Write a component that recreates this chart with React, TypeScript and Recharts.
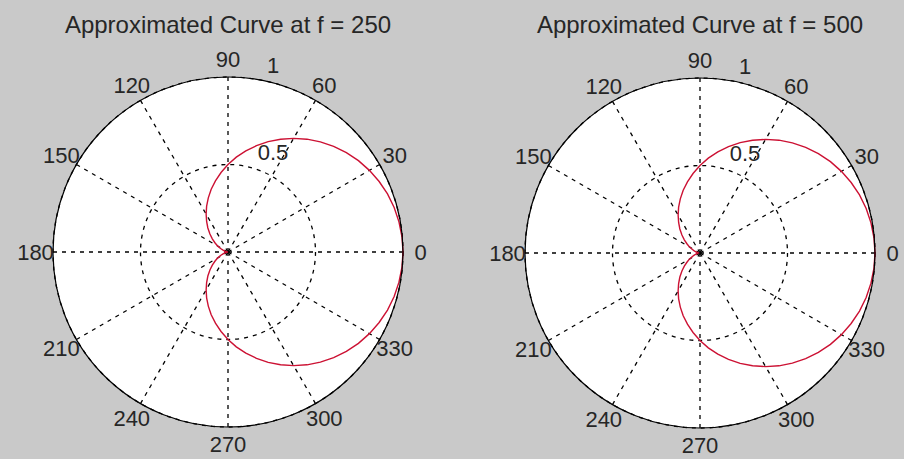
import React from "react";
import { RadarChart, Radar, PolarGrid, PolarAngleAxis, PolarRadiusAxis } from "recharts";

// Angles (degrees) at which the curves were read
const angles = [0, 5, 10, 15, 20, 25, 30, 35, 40, 45, 50, 55, 60, 65, 70, 75, 80, 85,
  90, 95, 100, 105, 110, 115, 120, 125, 130, 135, 140, 145, 150, 155, 160, 165, 170, 175,
  180, 185, 190, 195, 200, 205, 210, 215, 220, 225, 230, 235, 240, 245, 250, 255, 260, 265,
  270, 275, 280, 285, 290, 295, 300, 305, 310, 315, 320, 325, 330, 335, 340, 345, 350, 355];

// Radius (f = 250)
const r250 = [1.0, 0.998, 0.992, 0.983, 0.97, 0.953, 0.933, 0.91, 0.883, 0.854, 0.821, 0.787,
  0.75, 0.711, 0.671, 0.629, 0.587, 0.544, 0.5, 0.456, 0.413, 0.371, 0.329, 0.289,
  0.25, 0.213, 0.179, 0.146, 0.117, 0.09, 0.067, 0.047, 0.03, 0.017, 0.008, 0.002,
  0.0, 0.002, 0.008, 0.017, 0.03, 0.047, 0.067, 0.09, 0.117, 0.146, 0.179, 0.213,
  0.25, 0.289, 0.329, 0.371, 0.413, 0.456, 0.5, 0.544, 0.587, 0.629, 0.671, 0.711,
  0.75, 0.787, 0.821, 0.854, 0.883, 0.91, 0.933, 0.953, 0.97, 0.983, 0.992, 0.998];

// Radius (f = 500)
const r500 = [1.0, 0.998, 0.992, 0.983, 0.97, 0.953, 0.933, 0.91, 0.883, 0.854, 0.821, 0.787,
  0.75, 0.711, 0.671, 0.629, 0.587, 0.544, 0.5, 0.456, 0.413, 0.371, 0.329, 0.289,
  0.25, 0.213, 0.179, 0.146, 0.117, 0.09, 0.07, 0.05, 0.035, 0.022, 0.015, 0.02,
  0.01, 0.02, 0.015, 0.022, 0.035, 0.05, 0.07, 0.09, 0.117, 0.146, 0.179, 0.213,
  0.25, 0.289, 0.329, 0.371, 0.413, 0.456, 0.5, 0.544, 0.587, 0.629, 0.671, 0.711,
  0.75, 0.787, 0.821, 0.854, 0.883, 0.91, 0.933, 0.953, 0.97, 0.983, 0.992, 0.998];

const angleTickLabels = [0, 30, 60, 90, 120, 150, 180, 210, 240, 270, 300, 330];
const radiusTicks = [0, 0.5, 1];
const titles = ["Approximated Curve at f = 250", "Approximated Curve at f = 500"];

const BG = "#c9c9c9";
const TEXT = "#262626";
const RED = "#cc1133";
const FONT = "'Liberation Sans', Arial, sans-serif";

const R = 175;
const LABEL_R = R * 1.1;
const CHART_W = 452;
const CHART_H = 459;

const RadiusTick = (props: any) => {
  const v = Number(props.payload?.value);
  if (v === 0) return <g />;
  return (
    <text x={props.x + 45} y={props.y - 12} textAnchor="middle" dominantBaseline="central"
      fontSize={22} fill={TEXT} fontFamily={FONT}>{String(v)}</text>
  );
};

function PolarPlot({ values, title, cx, cy }: { values: number[]; title: string; cx: number; cy: number }) {
  const data = angles.map((a, i) => ({ angle: a, r: values[i] }));
  const AngleTick = (props: any) => {
    const v = Number(props.payload?.value);
    if (!angleTickLabels.includes(v)) return <g />;
    const rad = (v * Math.PI) / 180;
    const x = cx + LABEL_R * Math.cos(rad);
    const y = cy - LABEL_R * Math.sin(rad);
    return (
      <text x={x} y={y} textAnchor="middle" dominantBaseline="central"
        fontSize={22} fill={TEXT} fontFamily={FONT}>{String(v)}</text>
    );
  };
  return (
    <div style={{ position: "relative", width: CHART_W, height: CHART_H }}>
      <div style={{ position: "absolute", left: cx - R, top: cy - R, width: 2 * R, height: 2 * R,
        borderRadius: "50%", background: "#ffffff" }} />
      <div style={{ position: "absolute", left: 0, width: 2 * cx, top: 8, textAlign: "center",
        fontFamily: FONT, fontSize: 24, color: TEXT, lineHeight: "34px", whiteSpace: "nowrap" }}>{title}</div>
      <div style={{ position: "absolute", left: 0, top: 0 }}>
        <RadarChart width={CHART_W} height={CHART_H} data={data} cx={cx} cy={cy}
          outerRadius={R} innerRadius={0} startAngle={0} endAngle={360}
          margin={{ top: 0, right: 0, bottom: 0, left: 0 }}>
          <PolarGrid gridType="circle" stroke="#000" strokeWidth={1.3} strokeDasharray="4 5"
            polarAngles={angleTickLabels} />
          <Radar dataKey="r" stroke={RED} strokeWidth={1.4} fill="none" fillOpacity={0}
            dot={false} isAnimationActive={false} />
          <PolarAngleAxis dataKey="angle" type="number" domain={[0, 360]} ticks={angleTickLabels}
            axisLineType="circle" axisLine={{ stroke: "#000", strokeWidth: 1.2 }}
            tickLine={false} tickSize={18} tick={<AngleTick />} />
          <PolarRadiusAxis type="number" domain={[0, 1]} ticks={radiusTicks} angle={90}
            axisLine={false} tickLine={false} tick={<RadiusTick />} />
        </RadarChart>
      </div>
    </div>
  );
}

export default function App() {
  return (
    <div style={{ width: 904, height: 459, background: BG, display: "flex", overflow: "hidden" }}>
      <style>{`body{margin:0}`}</style>
      <PolarPlot values={r250} title={titles[0]} cx={228} cy={252} />
      <PolarPlot values={r500} title={titles[1]} cx={248} cy={253} />
    </div>
  );
}
